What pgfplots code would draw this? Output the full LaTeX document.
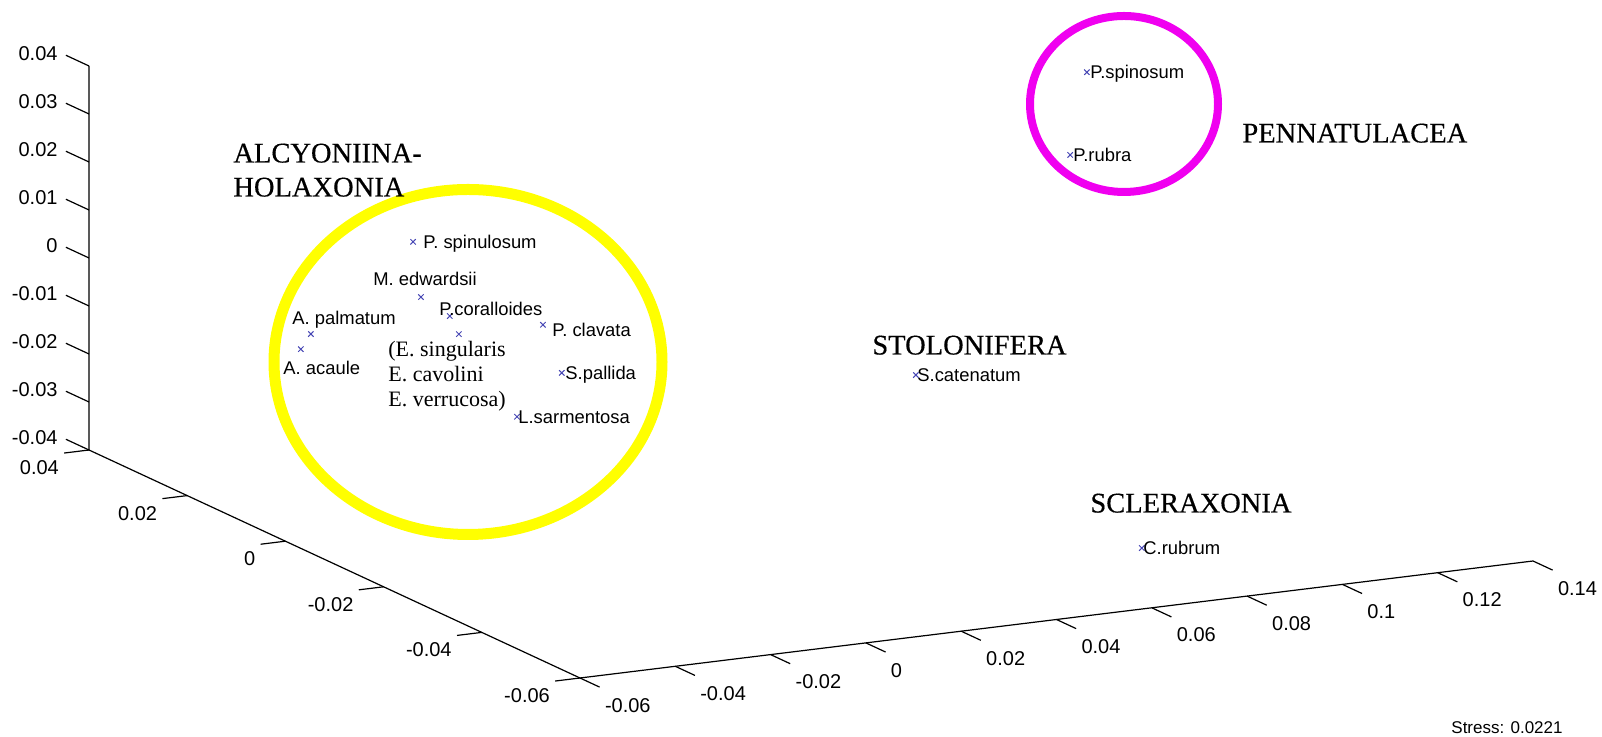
\documentclass[border=0pt]{standalone}
\usepackage{pgfplots}
\pgfplotsset{compat=1.18}
\usepackage{fontspec}
\setmainfont{Liberation Sans}
\newfontfamily\seriffont{Liberation Serif}
\newfontfamily\groupfont[FakeBold=0.4]{Liberation Serif}
\definecolor{markblue}{RGB}{70,70,180}
\definecolor{ringyellow}{RGB}{255,255,0}
\definecolor{ringmagenta}{RGB}{240,0,240}
\begin{document}
\begin{tikzpicture}
\begin{axis}[
  x={(2382.5pt,292.5pt)}, y={(-2455pt,1140pt)}, z={(0pt,2400pt)},
  xmin=-0.06,xmax=0.14,ymin=-0.06,ymax=0.04,zmin=-0.04,zmax=0.04,
  hide axis, clip=false,
]
\addplot3[only marks, mark=x, mark size=1.9pt, color=markblue, mark options={line width=0.5pt}] coordinates {
(-0.0229,0.010,0.0131)
(-0.0264,0.005,0.0044)
(-0.0255,0.000,0.0027)
(-0.0236,0.000,-0.0013)
(-0.0392,0.015,-0.0065)
(-0.0413,0.015,-0.0094)
(-0.0111,-0.005,0.0015)
(-0.0123,-0.010,-0.0060)
(-0.0217,-0.010,-0.0140)
(0.0517,-0.020,-0.0095)
(0.1185,0.010,0.0312)
(0.1150,0.010,0.0144)
(0.0682,-0.050,-0.0333)
};
\coordinate (corner) at (axis cs:-0.06,-0.06,-0.04);
\draw[line width=0.6pt] (axis cs:-0.06,0.04,0.04) -- (axis cs:-0.06,0.04,-0.04) -- (axis cs:-0.06,-0.06,-0.04) -- (axis cs:0.14,-0.06,-0.04);
\pgfplotsinvokeforeach{0.04,0.03,0.02,0.01,0,-0.01,-0.02,-0.03,-0.04}{
  \draw[line width=0.6pt] (axis cs:-0.06,0.04,#1) -- (axis cs:-0.06,0.0447,#1);
  \node[anchor=base east, inner sep=0pt, font=\fontsize{10}{12}\selectfont, xshift=-4pt, yshift=-2.75pt] at (axis cs:-0.06,0.0447,#1) {#1};
}
\pgfplotsinvokeforeach{0.04,0.02,0,-0.02,-0.04,-0.06}{
  \draw[line width=0.6pt] (axis cs:-0.06,#1,-0.04) -- (axis cs:-0.0652,#1,-0.04);
  \node[anchor=base east, inner sep=0pt, font=\fontsize{10}{12}\selectfont, xshift=-2.5pt, yshift=-10.75pt] at (axis cs:-0.0652,#1,-0.04) {#1};
}
\pgfplotsinvokeforeach{-0.06,-0.04,-0.02,0,0.02,0.04,0.06,0.08,0.1,0.12,0.14}{
  \draw[line width=0.6pt] (axis cs:#1,-0.06,-0.04) -- (axis cs:#1,-0.064,-0.04);
  \node[anchor=base west, inner sep=0pt, font=\fontsize{10}{12}\selectfont, xshift=2.5pt, yshift=-12.5pt] at (axis cs:#1,-0.064,-0.04) {#1};
}
\end{axis}
\begin{scope}[shift={(corner)}, x=0.5pt, y=-0.5pt]
\begin{scope}[shift={(-580,-678)}]
\draw[ringyellow, line width=5.5pt] (468,362) ellipse [x radius=194, y radius=172.5];
\draw[ringmagenta, line width=4pt] (1124,104) ellipse [x radius=94, y radius=88];
\begin{scope}[every node/.style={anchor=base west, inner sep=0pt, font=\fontsize{9.2}{11}\selectfont}]
\node at (423,248.5) {P. spinulosum};
\node at (373,285.5) {M. edwardsii};
\node at (439,315.5) {P.coralloides};
\node at (292,324.5) {A. palmatum};
\node at (283,374.5) {A. acaule};
\node at (552,336.5) {P. clavata};
\node at (565,379.5) {S.pallida};
\node at (518,423.5) {L.sarmentosa};
\node at (917,381.5) {S.catenatum};
\node at (1090,78.5) {P.spinosum};
\node at (1073,161.5) {P.rubra};
\node at (1143,554.5) {C.rubrum};
\end{scope}
\begin{scope}[every node/.style={anchor=base west, inner sep=0pt, font=\seriffont\fontsize{11}{13}\selectfont}]
\node at (388,357) {(E. singularis};
\node at (388,382) {E. cavolini};
\node at (388,407) {E. verrucosa)};
\end{scope}
\begin{scope}[every node/.style={anchor=base west, inner sep=0pt, font=\groupfont\fontsize{14.25}{16}\selectfont}]
\node at (233,162.5) {ALCYONIINA-};
\node at (233,196.5) {HOLAXONIA};
\node at (1242,142.5) {PENNATULACEA};
\node at (872,354.5) {STOLONIFERA};
\node at (1090,512.5) {SCLERAXONIA};
\end{scope}
\node[anchor=base west, inner sep=0pt, font=\fontsize{8.5}{10}\selectfont] at (1451,734) {Stress: 0.0221};
\pgfresetboundingbox
\path[use as bounding box] (0,0) rectangle (1602,737);
\end{scope}
\end{scope}
\end{tikzpicture}
\end{document}
